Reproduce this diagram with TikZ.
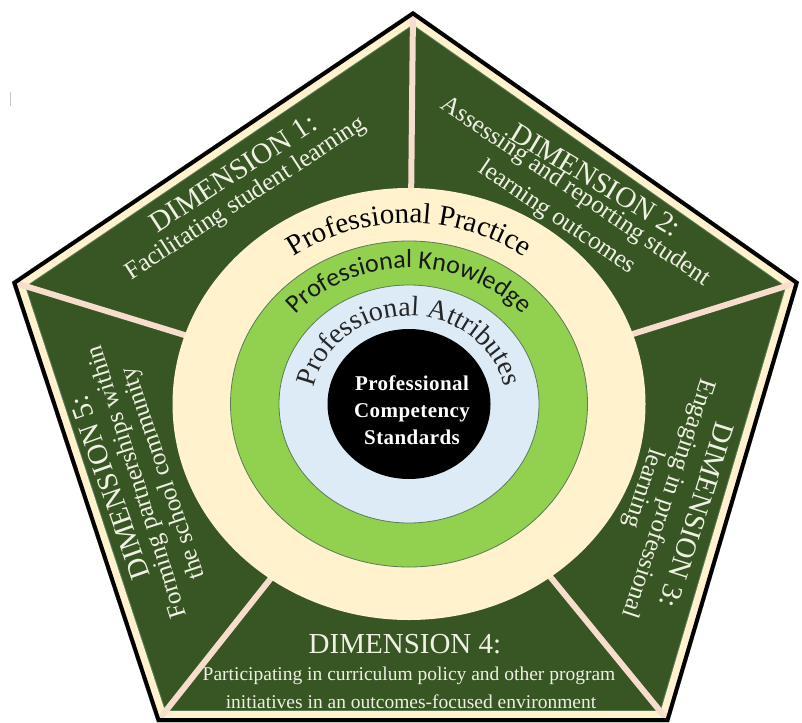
\documentclass[tikz,border=0pt]{standalone}
\usepackage{fontspec}
\setmainfont{Liberation Serif}
\newfontfamily\serffont{Liberation Serif}
\newfontfamily\calibfont{Carlito}
\usetikzlibrary{decorations.text}
\definecolor{pgreen}{HTML}{375623}
\definecolor{pcream}{HTML}{FFF2CC}
\definecolor{psep}{HTML}{F6DDCC}
\definecolor{plgreen}{HTML}{92D050}
\definecolor{plblue}{HTML}{DDEBF7}
\definecolor{ptext}{HTML}{F0F0E4}
\definecolor{pedge}{HTML}{5A7A58}
\newcommand\pracfont{\serffont\fontsize{29}{29}\selectfont}
\newcommand\knowfont{\calibfont\fontsize{26}{26}\selectfont}
\newcommand\attrfont{\serffont\fontsize{28}{28}\selectfont}
\begin{document}
\begin{tikzpicture}[x=1pt,y=-1pt,
  dimtitle/.style={text=ptext, font=\serffont\fontsize{29}{29}\selectfont, inner sep=0pt},
  dimsub/.style={text=ptext, font=\serffont\fontsize{25}{25}\selectfont, inner sep=0pt},
  dimsmall/.style={text=ptext, font=\serffont\fontsize{19.5}{19.5}\selectfont, inner sep=0pt},
  sepline/.style={psep, line width=6},
  ring/.style={draw=pedge, line width=0.8}]
\useasboundingbox (0,0) rectangle (802,722);
\coordinate (T) at (413,11);
\coordinate (R) at (799,282);
\coordinate (BR) at (669,722);
\coordinate (BL) at (157,722);
\coordinate (L) at (12,282);
\coordinate (C) at (409,404);
\draw[gray!45, line width=1] (10,92) -- (10,106);
\begin{scope}
  \clip (T) -- (R) -- (BR) -- (BL) -- (L) -- cycle;
  \fill[pgreen] (T) -- (R) -- (BR) -- (BL) -- (L) -- cycle;
  \draw[pedge, line width=24, line join=miter] (T) -- (R) -- (BR) -- (BL) -- (L) -- cycle;
  \draw[pcream, line width=22, line join=miter] (T) -- (R) -- (BR) -- (BL) -- (L) -- cycle;
  \foreach \v in {T,R,BR,BL,L} \draw[sepline] (\v) -- (C);
  \draw[black, line width=8, line join=miter] (T) -- (R) -- (BR) -- (BL) -- (L) -- cycle;
\end{scope}
% rings
\fill[pcream] (C) ellipse [x radius=236.5, y radius=216];
\filldraw[fill=plgreen, ring] (C) ellipse [x radius=178.5, y radius=163];
\filldraw[fill=plblue, ring] (C) ellipse [x radius=130, y radius=119];
\fill[black] (C) ellipse [x radius=81.5, y radius=75];
% arched texts
\begin{scope}[shift={(C)}, y=1pt]
  \path[decorate, decoration={text along path, text align=center, text color=black,
     text={|\pracfont|Professional Practice}}]
     (175:198 and 181) arc [start angle=175, end angle=5, x radius=198, y radius=181];
  \path[decorate, decoration={text along path, text align=center, text color=black!90,
     text={|\knowfont|Professional Knowledge}}]
     (178:150 and 136) arc [start angle=178, end angle=2, x radius=150, y radius=136];
  \path[decorate, decoration={text along path, text align=center, text color=black!85,
     text={|\attrfont|Professional Attributes}}]
     (195:97 and 88) arc [start angle=195, end angle=-15, x radius=97, y radius=88];
\end{scope}
\node[text=white, align=center, font={\serffont\bfseries\fontsize{21}{27}\selectfont\addfontfeatures{LetterSpace=2}}] (pcs) at (412,410)
  {Professional\\Competency\\Standards};
% Dimension 1
\node[dimtitle, rotate=33] (d1t) at (233,173) {DIMENSION 1:};
\node[dimsub, rotate=33] (d1s) at (246,199) {Facilitating student learning};
% Dimension 2
\node[dimtitle, rotate=-31] (d2t) at (596,180) {DIMENSION 2:};
\node[dimsub, rotate=-34] (d2s) at (575,192) {Assessing and reporting student};
\node[dimsub, rotate=-34] (d2u) at (557,218) {learning outcomes};
% Dimension 3
\node[dimtitle, rotate=-107.5] (d3t) at (697,515) {DIMENSION 3:};
\node[dimsub, rotate=-108.5] (d3s) at (668,498) {Engaging in professional};
\node[dimsub, rotate=-108.5] (d3u) at (643,488) {learning};
% Dimension 5
\node[dimtitle, rotate=109.5] (d5t) at (110,488) {DIMENSION 5:};
\node[dimsub, rotate=107.5] (d5s) at (138,482) {Forming partnerships within};
\node[dimsub, rotate=108.5] (d5u) at (164,473) {the school community};
% Dimension 4
\node[dimtitle, anchor=base] (d4t) at (405,653) {DIMENSION 4:};
\node[dimsmall, anchor=base] (d4s) at (409,680) {Participating in curriculum policy and other program};
\node[dimsmall, anchor=base] (d4u) at (411,708) {initiatives in an outcomes-focused environment};
\end{tikzpicture}
\end{document}
